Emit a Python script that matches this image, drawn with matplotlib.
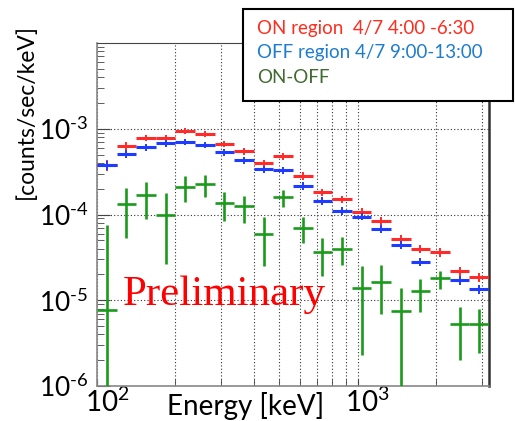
import numpy as np
import matplotlib
matplotlib.use('Agg')
import matplotlib.pyplot as plt
import matplotlib.transforms as mtransforms
from matplotlib.ticker import LogLocator, NullFormatter
from matplotlib.patches import Rectangle

plt.rcParams['font.family'] = ['Lato', 'DejaVu Sans']
plt.rcParams['mathtext.fontset'] = 'custom'
plt.rcParams['mathtext.rm'] = 'Lato'

# energy bin edges [keV]
bin_edges = [100, 119, 141, 168, 200, 238, 283, 336, 400, 475, 565,
             672, 799, 950, 1130, 1343, 1597, 1900, 2259, 2686, 3194]

# ON region spectrum [counts/sec/keV]
on_flux = [3.78e-4, 6.29e-4, 7.86e-4, 7.86e-4, 9.34e-4, 8.76e-4, 6.69e-4,
           5.50e-4, 3.95e-4, 4.77e-4, 2.83e-4, 1.82e-4, 1.50e-4, 1.07e-4,
           8.4e-5, 5.18e-5, 3.99e-5, 3.62e-5, 2.18e-5, 1.87e-5]
on_relerr = [0.14, 0.10, 0.09, 0.09, 0.08, 0.08, 0.09, 0.09, 0.10, 0.09,
             0.10, 0.10, 0.10, 0.10, 0.11, 0.11, 0.11, 0.11, 0.12, 0.12]

# OFF region spectrum (bin 18 missing)
off_flux = [3.73e-4, 5.08e-4, 6.12e-4, 6.82e-4, 7.01e-4, 6.46e-4, 5.36e-4,
            4.29e-4, 3.37e-4, 3.28e-4, 2.17e-4, 1.44e-4, 1.10e-4, 9.48e-5,
            6.78e-5, 4.41e-5, 2.82e-5, np.nan, 1.71e-5, 1.34e-5]
off_relerr = [0.12, 0.10, 0.09, 0.09, 0.08, 0.08, 0.09, 0.09, 0.10, 0.10,
              0.10, 0.10, 0.10, 0.10, 0.11, 0.11, 0.11, 0.11, 0.12, 0.12]

# ON-OFF, with lower/upper ends of the error bars (1e-8 = off the bottom)
diff_flux = [7.7e-6, 1.33e-4, 1.69e-4, 1.0e-4, 2.11e-4, 2.27e-4, 1.35e-4,
             1.27e-4, 5.93e-5, 1.61e-4, 6.96e-5, 3.68e-5, 3.96e-5, 1.38e-5,
             1.63e-5, 7.49e-6, 1.28e-5, 1.83e-5, 5.24e-6, 5.24e-6]
diff_lo = [1e-8, 5.28e-5, 8.79e-5, 2.63e-5, 1.39e-4, 1.61e-4, 8.4e-5,
           8.02e-5, 2.51e-5, 1.23e-4, 4.61e-5, 1.92e-5, 2.58e-5, 2.30e-6,
           6.86e-6, 1e-8, 7.35e-6, 1.34e-5, 2.01e-6, 2.44e-6]
diff_hi = [7.54e-5, 2.05e-4, 2.41e-4, 1.77e-4, 2.81e-4, 2.89e-4, 1.84e-4,
           1.66e-4, 9.27e-5, 1.93e-4, 9.27e-5, 5.36e-5, 5.51e-5, 2.51e-5,
           2.56e-5, 1.38e-5, 1.78e-5, 2.21e-5, 8.41e-6, 7.84e-6]

x_ticks = [100, 1000]
x_ticklabels = [r'$\mathregular{10^{2}}$', r'$\mathregular{10^{3}}$']
y_ticks = [1e-6, 1e-5, 1e-4, 1e-3]
y_ticklabels = [r'$\mathregular{10^{\text{-}6}}$', r'$\mathregular{10^{\text{-}5}}$',
                r'$\mathregular{10^{\text{-}4}}$', r'$\mathregular{10^{\text{-}3}}$']

edges = np.array(bin_edges, dtype=float)
centers = np.sqrt(edges[:-1] * edges[1:])
xerr = [centers - edges[:-1], edges[1:] - centers]

fig = plt.figure(figsize=(5.15, 4.21), dpi=100)
ax = fig.add_axes([0.1883, 0.0831, 0.7612, 0.8147])
ax.set_xscale('log')
ax.set_yscale('log')
ax.set_xlim(edges[0], edges[-1])
ax.set_ylim(1e-6, 1e-2)

def draw(y, yerr, color, hlw, vlw):
    ax.errorbar(centers, y, xerr=xerr, fmt='none', ecolor=color, elinewidth=hlw, capsize=0, zorder=3)
    ax.errorbar(centers, y, yerr=yerr, fmt='none', ecolor=color, elinewidth=vlw, capsize=0, zorder=3)

on = np.array(on_flux)
off = np.array(off_flux)
draw(on, on * np.array(on_relerr), '#ff2a2a', 2.2, 1.4)
draw(off, off * np.array(off_relerr), '#1e3cff', 2.2, 1.4)
d = np.array(diff_flux)
draw(d, [d - np.array(diff_lo), np.array(diff_hi) - d], '#1a9a1a', 1.9, 1.9)

# ticks and grid
ax.xaxis.set_minor_locator(LogLocator(base=10, subs=np.arange(2, 10)))
ax.xaxis.set_minor_formatter(NullFormatter())
ax.set_xticks(x_ticks)
ax.set_xticklabels(x_ticklabels)
ax.set_yticks(y_ticks)
ax.set_yticklabels(y_ticklabels)
ax.yaxis.set_minor_locator(LogLocator(base=10, subs=np.arange(2, 10)))
ax.yaxis.set_minor_formatter(NullFormatter())
ax.tick_params(which='both', direction='in', colors='#444444', labelcolor='black')
ax.tick_params(axis='x', labelsize=20)
ax.tick_params(axis='y', labelsize=19)
ax.tick_params(axis='y', which='major', length=9, pad=6)
ax.tick_params(axis='y', which='minor', length=5)
ax.tick_params(axis='x', which='both', length=5, pad=1)
ax.grid(True, which='major', axis='y', color='#333333', linestyle=(0, (1, 2)), linewidth=0.8)
ax.grid(True, which='both', axis='x', color='#333333', linestyle=(0, (1, 2)), linewidth=0.8)
ax.set_axisbelow(True)
for lab in ax.get_xticklabels():
    lab.set_transform(lab.get_transform() + mtransforms.ScaledTranslation(10 / 100, 0, fig.dpi_scale_trans))

for side in ['left', 'bottom']:
    ax.spines[side].set_color('#888888')
    ax.spines[side].set_linewidth(1.2)
ax.spines['top'].set_color('#444444')
ax.spines['right'].set_color('#333333')
ax.spines['right'].set_linewidth(1.8)

fig.text(0.05, 0.735, '[counts/sec/keV]', rotation=90, ha='center', va='center', fontsize=16.5)
fig.text(0.4767, 0.0143, 'Energy [keV]', ha='center', va='baseline', fontsize=20)
fig.text(0.2388, 0.2755, 'Preliminary', ha='left', va='baseline', fontsize=31,
         family='Liberation Serif', color='#ff0000')

# legend box
fig.add_artist(Rectangle((0.4718, 0.7601), 0.5243, 0.2185, transform=fig.transFigure,
                         facecolor='white', edgecolor='black', linewidth=1.5, zorder=10))
fig.text(0.499, 0.932, 'ON region  4/7 4:00 -6:30', color='#ff2d1e', fontsize=13.5, va='center', zorder=11)
fig.text(0.499, 0.875, 'OFF region 4/7 9:00-13:00', color='#1e7ccf', fontsize=13.5, va='center', zorder=11)
fig.text(0.499, 0.816, 'ON-OFF', color='#3f6b2f', fontsize=13.5, va='center', zorder=11)

fig.savefig('out.png', dpi=100)
